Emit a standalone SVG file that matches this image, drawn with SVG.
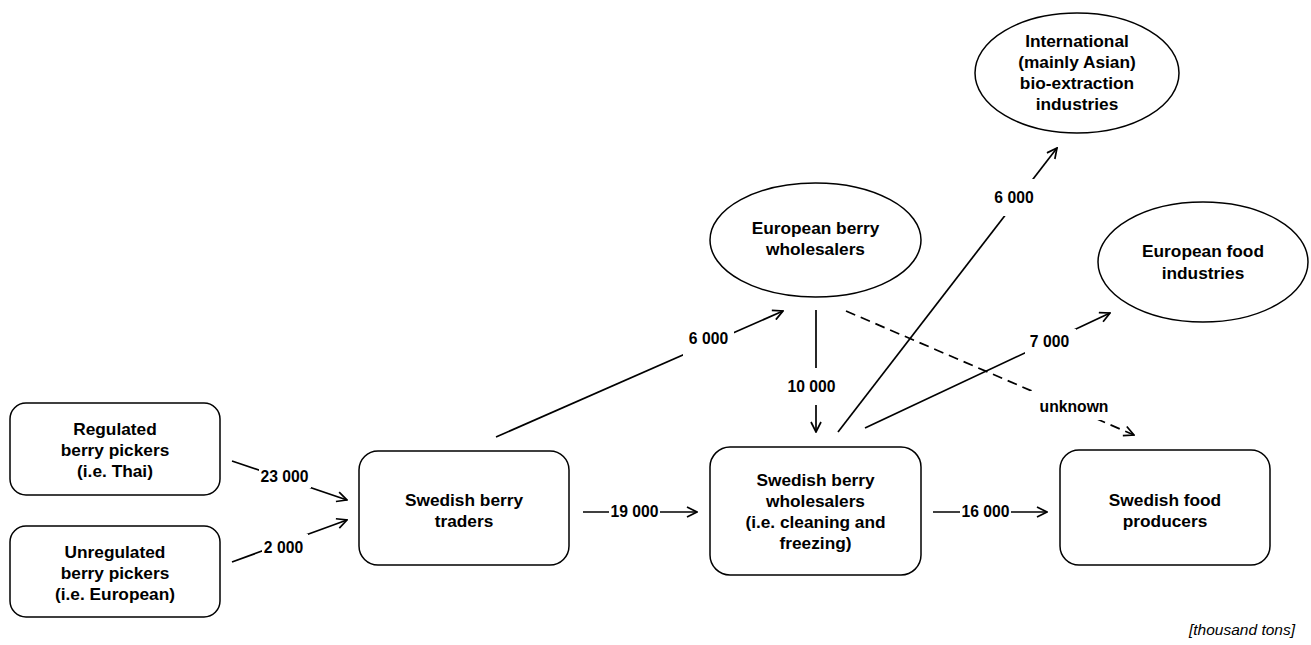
<svg xmlns="http://www.w3.org/2000/svg" width="1311" height="645" viewBox="0 0 1311 645">
<defs>
<marker id="arr" viewBox="0 0 12 12" refX="11" refY="6" markerWidth="12" markerHeight="12" markerUnits="userSpaceOnUse" orient="auto">
<path d="M1,1 L11,6 L1,11" fill="none" stroke="#000" stroke-width="1.7"/>
</marker>
<style>
.box{fill:#fff;stroke:#000;stroke-width:1.5}
.t{font-family:"Liberation Sans",Arial,sans-serif;font-weight:bold;font-size:17.3px;text-anchor:middle;fill:#000}
.l{font-family:"Liberation Sans",Arial,sans-serif;font-weight:bold;font-size:15.7px;text-anchor:middle;fill:#000}
.bg{fill:#fff;stroke:none}
.c{fill:none;stroke:#000;stroke-width:1.7;marker-end:url(#arr)}
.d{stroke-dasharray:10,6}
</style>
</defs>
<rect width="1311" height="645" fill="#fff"/>
<g id="connectors">
<line class="c" x1="232" y1="461" x2="347" y2="500"/>
<line class="c" x1="232" y1="562" x2="347" y2="520"/>
<line class="c" x1="496" y1="437" x2="783" y2="311"/>
<line class="c" x1="816" y1="310" x2="816" y2="432"/>
<line class="c" x1="583" y1="512" x2="697" y2="512"/>
<line class="c" x1="933" y1="512" x2="1047" y2="512"/>
<line class="c" x1="838" y1="432" x2="1057" y2="148"/>
<line class="c" x1="865" y1="428" x2="1110" y2="313"/>
<line class="c d" x1="846" y1="311" x2="1134" y2="435"/>
<rect class="bg" x="259" y="469" width="52" height="19"/>
<rect class="bg" x="262" y="534" width="46" height="20"/>
<rect class="bg" x="683" y="331" width="51" height="25"/>
<rect class="bg" x="786" y="368" width="51" height="37"/>
<rect class="bg" x="609" y="504" width="51" height="16"/>
<rect class="bg" x="960" y="504" width="51" height="16"/>
<rect class="bg" x="994" y="179" width="41" height="37"/>
<rect class="bg" x="1025" y="329" width="51" height="25"/>
<rect class="bg" x="1030" y="391" width="72" height="29"/>
<text class="l" x="284.5" y="482">23 000</text>
<text class="l" x="283.5" y="553">2 000</text>
<text class="l" x="708.5" y="344">6 000</text>
<text class="l" x="811.5" y="392">10 000</text>
<text class="l" x="634.5" y="517">19 000</text>
<text class="l" x="985.5" y="517">16 000</text>
<text class="l" x="1014" y="203">6 000</text>
<text class="l" x="1049.5" y="347">7 000</text>
<text class="l" x="1074" y="412">unknown</text>
</g>
<g id="regulated">
<rect class="box" x="10" y="403" width="210" height="92" rx="16"/>
<text class="t" x="115" y="435">Regulated</text>
<text class="t" x="115" y="456">berry pickers</text>
<text class="t" x="115" y="477">(i.e. Thai)</text>
</g>
<g id="unregulated">
<rect class="box" x="10" y="526" width="210" height="91" rx="16"/>
<text class="t" x="115" y="558">Unregulated</text>
<text class="t" x="115" y="579">berry pickers</text>
<text class="t" x="115" y="600">(i.e. European)</text>
</g>
<g id="traders">
<rect class="box" x="359" y="451" width="210" height="114" rx="19"/>
<text class="t" x="464" y="506">Swedish berry</text>
<text class="t" x="464" y="527">traders</text>
</g>
<g id="sbw">
<rect class="box" x="710" y="447" width="211" height="128" rx="20"/>
<text class="t" x="815.5" y="486">Swedish berry</text>
<text class="t" x="815.5" y="507">wholesalers</text>
<text class="t" x="815.5" y="528">(i.e. cleaning and</text>
<text class="t" x="815.5" y="549">freezing)</text>
</g>
<g id="sfp">
<rect class="box" x="1060" y="450" width="210" height="115" rx="19"/>
<text class="t" x="1165" y="506">Swedish food</text>
<text class="t" x="1165" y="527">producers</text>
</g>
<g id="ebw">
<ellipse class="box" cx="815.5" cy="240" rx="105.5" ry="57"/>
<text class="t" x="815.5" y="234">European berry</text>
<text class="t" x="815.5" y="255">wholesalers</text>
</g>
<g id="intl">
<ellipse class="box" cx="1077" cy="73" rx="102" ry="60"/>
<text class="t" x="1077" y="47">International</text>
<text class="t" x="1077" y="68">(mainly Asian)</text>
<text class="t" x="1077" y="89">bio-extraction</text>
<text class="t" x="1077" y="110">industries</text>
</g>
<g id="efi">
<ellipse class="box" cx="1203" cy="262" rx="105" ry="60"/>
<text class="t" x="1203" y="257">European food</text>
<text class="t" x="1203" y="279">industries</text>
</g>
<text x="1295" y="635" font-family="Liberation Sans,Arial,sans-serif" font-style="italic" font-size="15.5" text-anchor="end">[thousand tons]</text>
</svg>
